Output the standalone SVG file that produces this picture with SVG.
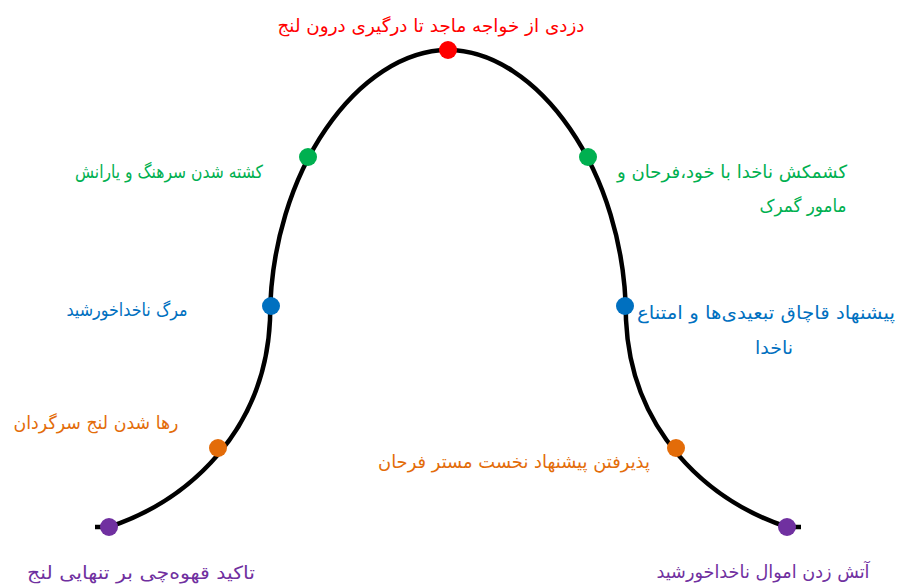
<svg xmlns="http://www.w3.org/2000/svg" width="898" height="588" viewBox="0 0 898 588">
<style>
text{font-family:"DejaVu Sans",sans-serif;font-size:18px;direction:rtl;unicode-bidi:embed}
.c{text-anchor:middle}
.red{fill:#FF0000}.grn{fill:#00B050}.blu{fill:#0070C0}.org{fill:#E36C09}.pur{fill:#7030A0}
.curve{fill:none;stroke:#000;stroke-width:4.5;stroke-linejoin:round}
</style>
<rect width="898" height="588" fill="#fff"/>
<g id="connectors">
<path class="curve" d="M95,527 L109,527 C190,500 265,430 270,320 C270,170 360,50 448,50 C536,50 626,170 626,320 C631,430 706,500 787,527 L801,527"/>
</g>
<g id="n-top"><circle cx="448" cy="50" r="9" class="red"/><text class="c red" x="431" y="32" textLength="307" lengthAdjust="spacingAndGlyphs">دزدی از خواجه ماجد تا درگیری درون لنج</text></g>
<g id="n-green-left"><circle cx="308" cy="157" r="9" class="grn"/><text class="c grn" x="169" y="178" textLength="188" lengthAdjust="spacingAndGlyphs">کشته شدن سرهنگ و یارانش</text></g>
<g id="n-green-right"><circle cx="588" cy="157" r="9" class="grn"/><text class="c grn" x="732" y="178" textLength="230" lengthAdjust="spacingAndGlyphs">کشمکش ناخدا با خود،فرحان و</text><text class="c grn" x="803" y="212" textLength="87" lengthAdjust="spacingAndGlyphs">مامور گمرک</text></g>
<g id="n-blue-left"><circle cx="271" cy="306" r="9" class="blu"/><text class="c blu" x="127" y="316" textLength="121" lengthAdjust="spacingAndGlyphs">مرگ ناخداخورشید</text></g>
<g id="n-blue-right"><circle cx="625" cy="306" r="9" class="blu"/><text class="c blu" x="766" y="319" textLength="258" lengthAdjust="spacingAndGlyphs">پیشنهاد قاچاق تبعیدی&#x200C;ها و امتناع</text><text class="c blu" x="774" y="354" textLength="38" lengthAdjust="spacingAndGlyphs">ناخدا</text></g>
<g id="n-orange-left"><circle cx="218" cy="448" r="9" class="org"/><text class="c org" x="96" y="429" textLength="165" lengthAdjust="spacingAndGlyphs">رها شدن لنج سرگردان</text></g>
<g id="n-orange-right"><circle cx="676" cy="448" r="9" class="org"/><text class="c org" x="514" y="468" textLength="272" lengthAdjust="spacingAndGlyphs">پذیرفتن پیشنهاد نخست مستر فرحان</text></g>
<g id="n-purple-left"><circle cx="109" cy="527" r="9" class="pur"/><text class="c pur" x="141" y="579" textLength="228" lengthAdjust="spacingAndGlyphs">تاکید قهوه&#x200C;چی بر تنهایی لنج</text></g>
<g id="n-purple-right"><circle cx="787" cy="527" r="9" class="pur"/><text class="c pur" x="763" y="578" textLength="213" lengthAdjust="spacingAndGlyphs">آتش زدن اموال ناخداخورشید</text></g>
</svg>
